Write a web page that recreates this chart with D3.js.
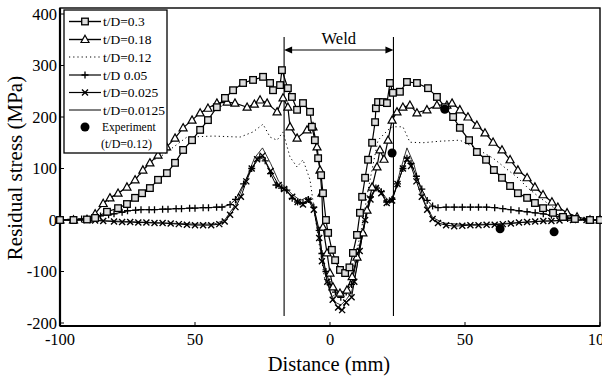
<!DOCTYPE html>
<html>
<head>
<meta charset="utf-8">
<script src="https://cdn.jsdelivr.net/npm/d3@7"></script>
<style>
  body { margin: 0; background: #fff; }
  svg text { font-family: "Liberation Serif", "Times New Roman", serif; fill: #000; }
</style>
</head>
<body>
<svg id="stage" width="602" height="378"></svg>
<script>
// Residual stress (MPa) against distance from weld centre (mm)
const td03 = [[-100,0],[-95,0],[-90,1],[-87,4],[-82.6,16],[-78.5,23],[-75.2,31],[-72.2,43],[-69.6,52],[-66.7,62],[-63.7,78],[-60.4,91],[-57.4,111],[-54.4,136],[-51.1,155],[-48.1,175],[-45.2,194],[-41.9,219],[-38.9,237],[-35.9,252],[-32.2,266],[-28.5,272],[-24.8,278],[-22.2,266],[-21.1,252],[-18.5,262],[-17.8,291],[-15.6,256],[-14.1,239],[-12.2,214],[-10,227],[-7.4,210],[-6.7,181],[-5.6,155],[-4.4,120],[-3.3,87],[-2.6,52],[-1.5,0],[-0.7,-25],[0.7,-58],[1.9,-78],[3.7,-97],[5.6,-103],[7.2,-92],[8.5,-64],[10,-29],[11.1,14],[11.9,45],[13,82],[14.1,117],[15.6,150],[16.7,190],[17,217],[17.8,229],[19.6,229],[21.1,227],[22.2,266],[23.3,247],[25.9,249],[28.5,268],[32.2,266],[36.3,256],[39.6,239],[42.6,219],[45.6,200],[48.1,179],[51.5,155],[54.4,132],[57.8,117],[60.7,97],[63.7,82],[66.7,66],[69.6,52],[73,43],[75.9,33],[78.9,23],[82.6,14],[86.3,6],[90.7,2],[96.3,0],[100,0]];
const td018 = [[-100,0],[-95,0],[-90,1],[-87,12],[-84,32],[-81.5,43],[-78.5,52],[-75.2,64],[-72.2,78],[-69.3,97],[-66.7,111],[-63.7,126],[-60.5,142],[-57.4,159],[-54.4,179],[-51.1,194],[-48.1,208],[-45.2,217],[-41.9,227],[-38.1,229],[-35.2,227],[-30.7,219],[-28,225],[-25.9,233],[-23.3,227],[-19.6,210],[-17.4,237],[-15.6,219],[-14.8,181],[-12.2,159],[-8.5,175],[-6.3,181],[-4.8,142],[-3.7,97],[-3,52],[-2.6,-14],[-1.1,-64],[0,-103],[1.1,-130],[3.7,-142],[6.3,-136],[8.2,-110],[10,-72],[12.2,-25],[13.7,19],[15.6,64],[17.4,103],[18.5,136],[20,118],[21.5,155],[23,194],[24.8,210],[27,219],[29.6,223],[32.2,208],[35.9,214],[39.6,223],[43.3,223],[45.2,227],[48.1,214],[51.1,200],[54.4,184],[57.4,169],[60.4,151],[63.7,136],[66.7,117],[69.6,97],[73,82],[75.9,64],[78.9,49],[82.2,35],[84.4,25],[87.8,14],[91.5,6],[96.3,0],[100,0]];
const td012 = [[-100,0],[-90,1],[-84,28],[-80,45],[-75,64],[-70,90],[-65.6,116],[-63,122],[-53,161],[-43.3,163],[-33.3,161],[-28.5,171],[-24.8,186],[-22.2,161],[-19.6,155],[-17.4,171],[-14.8,122],[-12.2,103],[-10,117],[-7.4,78],[-5.6,10],[-3.7,-58],[-1.9,-117],[0.7,-146],[3.7,-151],[6.7,-132],[9.3,-78],[11.9,-10],[14.1,58],[16.3,117],[17.8,155],[21.5,175],[23.3,181],[27,181],[29.6,151],[34.4,150],[40.7,153],[48.1,155],[53.7,140],[60.4,120],[65.9,97],[69.6,82],[73.3,62],[77.8,43],[82.6,25],[87.8,14],[92.6,4],[100,0]];
const td005 = [[-100,0],[-96,1],[-92,2],[-88,5],[-85,8],[-82,10],[-80,12],[-77,15],[-75,18],[-72,19],[-70,20],[-67,20],[-65,20],[-62,21],[-60,21],[-57,22],[-55,22],[-52,23],[-50,23],[-47,24],[-45,24],[-42,25],[-40,25],[-37,30],[-35,40],[-32,70],[-29,100],[-26,122],[-24,115],[-22,90],[-20,68],[-18,62],[-16,58],[-14,42],[-12,35],[-10,33],[-8,40],[-6,25],[-4,-20],[-3,-65],[-1.5,-100],[0,-125],[2,-140],[4,-150],[6,-140],[8,-125],[10,-75],[12,-25],[13.5,15],[15,45],[17,62],[19,55],[21,35],[23,40],[25,70],[27,100],[28.5,120],[30,110],[32,85],[34,60],[36,38],[38,27],[40,24],[43,25],[46,25],[49,25],[52,25],[55,25],[58,25],[61,24],[64,22],[67,20],[70,18],[73,16],[76,14],[79,12],[82,9],[85,6],[88,3],[91,2],[95,0],[100,0]];
const td0025 = [[-100,0],[-95,0],[-90,0],[-87,-1],[-84,-2],[-80,-3],[-77,-4],[-74,-4],[-71,-5],[-68,-5],[-65,-6],[-62,-6],[-59,-7],[-56,-8],[-53,-9],[-50,-10],[-47,-10],[-44,-10],[-41,-8],[-39,-3],[-37,10],[-35,25],[-33,45],[-31,75],[-29,100],[-27,118],[-25,125],[-22,95],[-19,68],[-17,60],[-14,45],[-12,35],[-10,30],[-8,38],[-6,20],[-4,-35],[-3,-80],[-1,-120],[1,-155],[3,-170],[4.5,-175],[6,-160],[8,-150],[9,-120],[11,-60],[13,0],[15,40],[17,62],[19,52],[21,33],[23,38],[25,70],[27,100],[28.5,118],[30,105],[32,75],[34,45],[36,20],[38,2],[40,-6],[43,-10],[46,-12],[49,-11],[52,-10],[55,-10],[58,-9],[61,-9],[64,-8],[67,-7],[70,-5],[73,-4],[76,-3],[79,-2],[82,-2],[85,-1],[90,0],[95,0],[100,0]];
const td00125 = [[-100,0],[-90,0],[-80,-2],[-70,-4],[-60,-6],[-50,-8],[-43,-8],[-39,0],[-35,30],[-31,80],[-28,120],[-25,140],[-22,110],[-19,75],[-17,65],[-14,50],[-11,38],[-8,45],[-6,25],[-4,-30],[-2,-95],[0,-140],[2,-160],[4,-165],[6,-155],[8,-140],[10,-90],[12,-30],[14,20],[16,55],[18,65],[20,48],[22,35],[24,55],[26,95],[28.5,140],[31,110],[33,70],[35,35],[38,5],[42,-6],[50,-9],[60,-8],[70,-5],[80,-2],[90,0],[100,0]];
const experiment = [[23,130],[42.5,215],[63,-17],[83,-23]];

const yTicks = [400, 300, 200, 100, 0, -100, -200];
const xTicks = [-100, -50, 0, 50, 100];
const xTickLabels = ["-100", "50", "0", "50", "100"];
const weldEdges = [-17, 23.5];

const series = [
  { label: "t/D=0.3", data: td03, marker: "square", dash: null, width: 1.2 },
  { label: "t/D=0.18", data: td018, marker: "triangle", dash: null, width: 1.2 },
  { label: "t/D=0.12", data: td012, marker: null, dash: "1.2,3", width: 1 },
  { label: "t/D  0.05", data: td005, marker: "plus", dash: null, width: 1 },
  { label: "t/D=0.025", data: td0025, marker: "cross", dash: null, width: 1 },
  { label: "t/D=0.0125", data: td00125, marker: null, dash: null, width: 0.8 },
];

const svg = d3.select("#stage");
const plotLeft = 60, plotRight = 600, plotTop = 8, plotBottom = 326;

const x = d3.scaleLinear().domain([-100, 100]).range([plotLeft, plotRight]);
const y = d3.scaleLinear().domain([-200, 400]).range([323, 14]);

// markers: draw one at (cx, cy)
const drawMarker = (g, type, cx, cy) => {
  if (type === "square") {
    g.append("rect").attr("x", cx - 3.3).attr("y", cy - 3.3).attr("width", 6.6).attr("height", 6.6)
      .attr("fill", "#ddd").attr("stroke", "#000").attr("stroke-width", 1.3);
  } else if (type === "triangle") {
    g.append("path").attr("d", `M${cx},${cy - 4.2}L${cx + 4},${cy + 3}L${cx - 4},${cy + 3}Z`)
      .attr("fill", "#fff").attr("stroke", "#000").attr("stroke-width", 1.2);
  } else if (type === "plus") {
    g.append("path").attr("d", `M${cx - 3.5},${cy}H${cx + 3.5}M${cx},${cy - 3.5}V${cy + 3.5}`)
      .attr("stroke", "#000").attr("stroke-width", 1.3);
  } else if (type === "cross") {
    g.append("path").attr("d", `M${cx - 3},${cy - 3}L${cx + 3},${cy + 3}M${cx - 3},${cy + 3}L${cx + 3},${cy - 3}`)
      .attr("stroke", "#000").attr("stroke-width", 1.4);
  } else if (type === "dot") {
    g.append("circle").attr("cx", cx).attr("cy", cy).attr("r", 4.5).attr("fill", "#000");
  }
};

// frame
svg.append("rect").attr("x", plotLeft).attr("y", plotTop).attr("width", plotRight - plotLeft).attr("height", plotBottom - plotTop)
  .attr("fill", "none").attr("stroke", "#000").attr("stroke-width", 1.4);
svg.append("line").attr("x1", plotLeft).attr("x2", plotLeft).attr("y1", plotTop).attr("y2", plotBottom)
  .attr("stroke", "#000").attr("stroke-width", 2.2);
svg.append("line").attr("x1", plotLeft).attr("x2", plotRight).attr("y1", plotBottom).attr("y2", plotBottom)
  .attr("stroke", "#000").attr("stroke-width", 2);

// y ticks + labels
yTicks.forEach((t) => {
  svg.append("line").attr("x1", plotLeft).attr("x2", plotLeft + 4).attr("y1", y(t)).attr("y2", y(t))
    .attr("stroke", "#000").attr("stroke-width", 1);
  svg.append("text").attr("x", plotLeft - 3).attr("y", y(t) + 5.5).attr("text-anchor", "end")
    .attr("font-size", 16.5).text(t);
});
// x ticks + labels
xTicks.forEach((t, i) => {
  svg.append("line").attr("x1", x(t)).attr("x2", x(t)).attr("y1", plotBottom).attr("y2", plotBottom - 4)
    .attr("stroke", "#000").attr("stroke-width", 1);
  svg.append("text").attr("x", x(t)).attr("y", 345).attr("text-anchor", "middle")
    .attr("font-size", 16.5).text(xTickLabels[i]);
});

svg.append("text").attr("x", 329).attr("y", 371).attr("text-anchor", "middle")
  .attr("font-size", 20.5).text("Distance (mm)");
svg.append("text").attr("transform", "translate(22,168) rotate(-90)").attr("text-anchor", "middle")
  .attr("font-size", 21).text("Residual stress (MPa)");

// weld zone
weldEdges.forEach((w) => {
  svg.append("line").attr("x1", x(w)).attr("x2", x(w)).attr("y1", 37).attr("y2", 316)
    .attr("stroke", "#000").attr("stroke-width", 1.1);
});
svg.append("line").attr("x1", x(weldEdges[0]) + 6).attr("x2", x(weldEdges[1]) - 6).attr("y1", 50).attr("y2", 50)
  .attr("stroke", "#000").attr("stroke-width", 1.1);
svg.append("path").attr("d", `M${x(weldEdges[0])},50l8,-3.5v7Z`).attr("fill", "#000");
svg.append("path").attr("d", `M${x(weldEdges[1])},50l-8,-3.5v7Z`).attr("fill", "#000");
svg.append("text").attr("x", (x(weldEdges[0]) + x(weldEdges[1])) / 2).attr("y", 44).attr("text-anchor", "middle")
  .attr("font-size", 16.5).text("Weld");

// series
const line = d3.line().x((d) => x(d[0])).y((d) => y(d[1]));
series.forEach((s) => {
  svg.append("path").datum(s.data).attr("d", line).attr("fill", "none").attr("stroke", "#000")
    .attr("stroke-width", s.width).attr("stroke-dasharray", s.dash);
});
series.slice().reverse().forEach((s) => {
  if (!s.marker) return;
  const g = svg.append("g");
  s.data.forEach((d) => drawMarker(g, s.marker, x(d[0]), y(d[1])));
});
const expG = svg.append("g");
experiment.forEach((d) => drawMarker(expG, "dot", x(d[0]), y(d[1])));

// legend
const lg = svg.append("g");
lg.append("rect").attr("x", 64).attr("y", 10).attr("width", 103).attr("height", 143)
  .attr("fill", "#fff").attr("stroke", "#000").attr("stroke-width", 1.3);
const rowY = [21.5, 39.5, 57, 75, 92.5, 110];
series.forEach((s, i) => {
  lg.append("line").attr("x1", 69).attr("x2", 101).attr("y1", rowY[i]).attr("y2", rowY[i])
    .attr("stroke", "#000").attr("stroke-width", s.width + 0.2).attr("stroke-dasharray", s.dash);
  if (s.marker) drawMarker(lg, s.marker, 85, rowY[i]);
  lg.append("text").attr("x", 103).attr("y", rowY[i] + 4.5).attr("font-size", 13.5).text(s.label);
});
drawMarker(lg, "dot", 85, 127);
lg.append("text").attr("x", 102).attr("y", 131).attr("font-size", 11.5).text("Experiment");
lg.append("text").attr("x", 101).attr("y", 148).attr("font-size", 12).text("(t/D=0.12)");
</script>
</body>
</html>
